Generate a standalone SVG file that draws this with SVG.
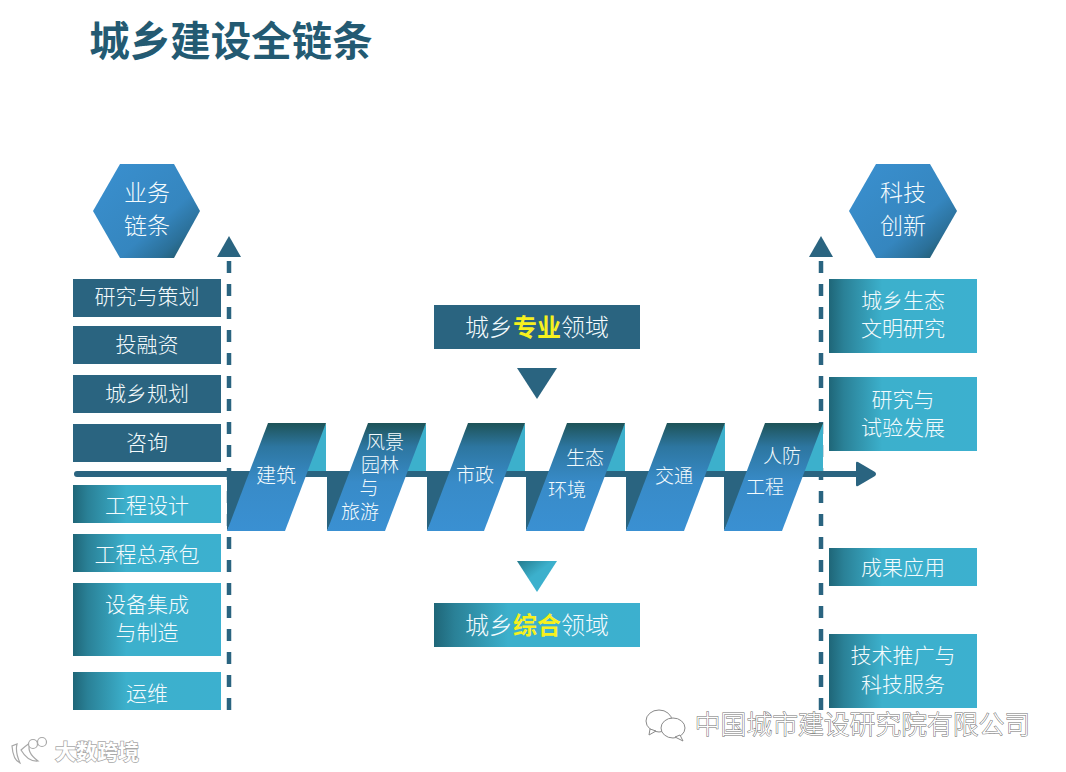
<svg xmlns="http://www.w3.org/2000/svg" width="1066" height="772" viewBox="0 0 1066 772">
<style>
text{font-family:"Noto Sans CJK SC","Liberation Sans",sans-serif;text-anchor:middle;dominant-baseline:central;transform:translateY(-2px)}
.t{fill:#f4fbfd;font-size:21px;font-weight:300}
.s{fill:#f4fbfd;font-size:19px;font-weight:300}
.h{fill:#f4fbfd;font-size:23px;font-weight:300}
.m{fill:#f4fbfd;font-size:24px;font-weight:300}
.y{fill:#f6f01e;font-weight:700}
.d{fill:#2a6480}
.g{fill:url(#teal)}
.p{fill:url(#par)}
.x{fill:url(#hex)}
.l{fill:#3cb0cc}
.w{fill:#fff;stroke:#6f6f6f;stroke-width:1;paint-order:stroke;font-weight:300}
.dash{stroke:#2a6480;stroke-width:4.5;stroke-dasharray:12 11;fill:none}
</style>
<defs>
<linearGradient id="teal" x1="0" y1="0" x2="1" y2="0"><stop offset="0" stop-color="#1f6678"/><stop offset=".1" stop-color="#2a8197"/><stop offset=".36" stop-color="#3cb0cc"/><stop offset="1" stop-color="#3cb0cf"/></linearGradient>
<linearGradient id="tri" x1="0" y1="0" x2="1" y2="1"><stop offset="0" stop-color="#247a8c"/><stop offset=".45" stop-color="#3cb0cc"/><stop offset="1" stop-color="#3cb0cf"/></linearGradient>
<linearGradient id="par" x1="0" y1="0" x2="0" y2="1"><stop offset="0" stop-color="#1e5358"/><stop offset=".22" stop-color="#2d76a0"/><stop offset=".55" stop-color="#388bc8"/><stop offset="1" stop-color="#3a90d2"/></linearGradient>
<linearGradient id="hex" x1="0" y1="0" x2="1" y2="1"><stop offset="0" stop-color="#3a90d0"/><stop offset=".62" stop-color="#3586bf"/><stop offset=".8" stop-color="#2b7099"/><stop offset="1" stop-color="#1c4c50"/></linearGradient>
</defs>
<rect width="1066" height="772" fill="#fff"/>
<text id="title" x="231" y="40" style="font-size:40.500px;font-weight:700;fill:#235a72">城乡建设全链条</text>
<g id="connectors">
<path class="dash" d="M229 710V258"/>
<path class="d" d="M229 236L241 257H217Z"/>
<path class="dash" d="M821 710V258"/>
<path class="d" d="M821 236L833 257H809Z"/>
<path d="M77 474H858" stroke="#2a6480" stroke-width="6" stroke-linecap="round" fill="none"/>
<path class="d" d="M856 463Q856 461 858 462L875 472Q877 474 875 476L858 486Q856 487 856 485Z"/>
</g>
<g id="hex-business"><path class="x" d="M120 164H174L200 211L174 258H120L93 211Z"/><text class="h" x="147" y="193">业务</text><text class="h" x="147" y="226">链条</text></g>
<g id="hex-tech"><path class="x" d="M876 164H930L957 211L930 258H876L849 211Z"/><text class="h" x="903" y="193">科技</text><text class="h" x="903" y="226">创新</text></g>
<g id="l1"><rect class="d" x="73" y="279" width="148" height="38"/><text class="t" x="147" y="297">研究与策划</text></g>
<g id="l2"><rect class="d" x="73" y="326" width="148" height="38"/><text class="t" x="147" y="345">投融资</text></g>
<g id="l3"><rect class="d" x="73" y="375" width="148" height="38"/><text class="t" x="147" y="394">城乡规划</text></g>
<g id="l4"><rect class="d" x="73" y="424" width="148" height="38"/><text class="t" x="147" y="443">咨询</text></g>
<g id="l5"><rect class="g" x="73" y="485" width="148" height="38"/><text class="t" x="147" y="506">工程设计</text></g>
<g id="l6"><rect class="g" x="73" y="534" width="148" height="38"/><text class="t" x="147" y="555">工程总承包</text></g>
<g id="l7"><rect class="g" x="73" y="583" width="148" height="73"/><text class="t" x="147" y="605">设备集成</text><text class="t" x="147" y="633">与制造</text></g>
<g id="l8"><rect class="g" x="73" y="672" width="148" height="38"/><text class="t" x="147" y="694">运维</text></g>
<g id="r1"><rect class="g" x="829" y="279" width="148" height="74"/><text class="t" x="903" y="301">城乡生态</text><text class="t" x="903" y="329">文明研究</text></g>
<g id="r2"><rect class="g" x="829" y="377" width="148" height="74"/><text class="t" x="903" y="400">研究与</text><text class="t" x="903" y="428">试验发展</text></g>
<g id="r3"><rect class="g" x="829" y="548" width="148" height="38"/><text class="t" x="903" y="568">成果应用</text></g>
<g id="r4"><rect class="g" x="829" y="634" width="148" height="74"/><text class="t" x="903" y="656">技术推广与</text><text class="t" x="903" y="685">科技服务</text></g>
<g id="top-label"><rect class="d" x="434" y="305" width="206" height="44"/><text class="m" x="537" y="327">城乡<tspan class="y">专业</tspan>领域</text><path class="d" d="M517 368H557L537 399Z"/></g>
<g id="bottom-label"><path fill="url(#tri)" d="M517 561H557L537 592Z"/><rect class="g" x="434" y="603" width="206" height="44"/><text class="m" x="537" y="625">城乡<tspan class="y">综合</tspan>领域</text></g>
<g id="ribbon">
<g id="n1"><path class="d" d="M227 471H252V480L227 531Z"/><path class="l" d="M326 423V471H303Z"/><path class="p" d="M268 423H326L285 531H227Z"/><text class="s" style="font-size:20px" x="276" y="476">建筑</text></g>
<g id="n2"><path class="d" d="M327 471H352V480L327 531Z"/><path class="l" d="M426 423V471H403Z"/><path class="p" d="M368 423H426L385 531H327Z"/><text class="s" x="385" y="442">风景</text><text class="s" x="380" y="465">园林</text><text class="s" x="369" y="488">与</text><text class="s" x="360" y="512">旅游</text></g>
<g id="n3"><path class="d" d="M427 471H452V480L427 531Z"/><path class="l" d="M525 423V471H502Z"/><path class="p" d="M468 423H525L484 531H427Z"/><text class="s" x="475" y="475">市政</text></g>
<g id="n4"><path class="d" d="M526 471H551V480L526 531Z"/><path class="l" d="M625 423V471H602Z"/><path class="p" d="M567 423H625L584 531H526Z"/><text class="s" x="585" y="458">生态</text><text class="s" x="567" y="490">环境</text></g>
<g id="n5"><path class="d" d="M626 471H651V480L626 531Z"/><path class="l" d="M725 423V471H702Z"/><path class="p" d="M667 423H725L684 531H626Z"/><text class="s" x="674" y="476">交通</text></g>
<g id="n6"><path class="d" d="M724 471H749V480L724 531Z"/><path class="l" d="M823 423V471H800Z"/><path class="p" d="M765 423H823L782 531H724Z"/><text class="s" x="782" y="456">人防</text><text class="s" x="765" y="487">工程</text></g>
</g>
<g id="watermark-company">
<g fill="#fff" stroke="#8a8a8a" stroke-width="1"><ellipse cx="659" cy="721" rx="13" ry="11"/><path d="M650 729L649 735L656 731Z"/><ellipse cx="673" cy="728" rx="12" ry="10"/><path d="M680 735L683 741L675 737Z"/></g>
<text class="w" x="862.500" y="724" style="font-size:25.800px">中国城市建设研究院有限公司</text>
</g>
<g id="watermark-brand">
<g fill="#fff" stroke="#a8a8a8" stroke-width="1.200"><path d="M12 746Q13 760 20 763Q15 752 17 744Z"/><path d="M21 750Q30 742 30 744Q26 752 38 761Q28 762 21 750Z"/><circle cx="33" cy="744" r="4.500"/><circle cx="42" cy="742" r="4.500"/></g>
<text class="w" x="97" y="752" style="font-size:21px;font-weight:700;stroke:#a8a8a8;stroke-width:1.500">大数跨境</text>
</g>
</svg>
